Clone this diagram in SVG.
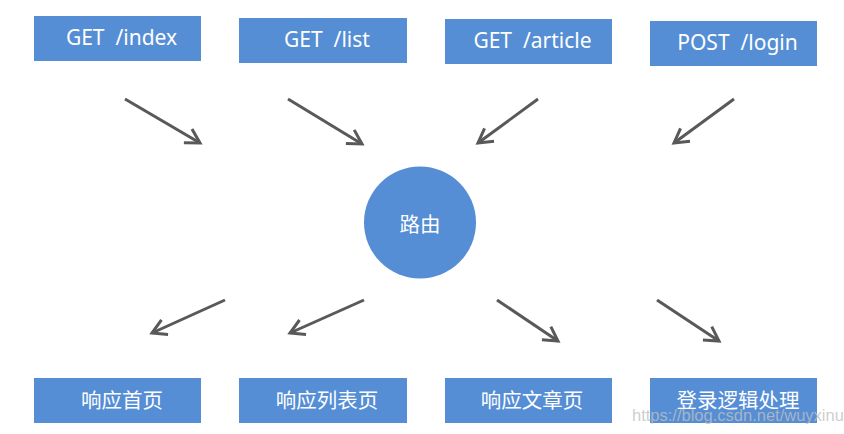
<svg xmlns="http://www.w3.org/2000/svg" width="844" height="434" viewBox="0 0 844 434">
<style>
.box{fill:#558ED5}
.lbl{fill:#ffffff;font-family:"Noto Sans","Noto Sans CJK SC",sans-serif;font-size:21px;text-anchor:middle;white-space:pre}
.cjk{fill:#ffffff;font-family:"Noto Sans CJK SC","Noto Sans",sans-serif;font-size:20.5px;text-anchor:middle}
.arr{stroke:#595959;stroke-width:3;fill:none;marker-end:url(#ah)}
.wm{fill:#bfbfbf;fill-opacity:0.8;font-family:"Liberation Sans",Arial,sans-serif;font-size:16.5px}
</style>
<defs>
<marker id="ah" markerUnits="userSpaceOnUse" viewBox="-18 -11 20 22" markerWidth="20" markerHeight="22" refX="0" refY="0" orient="auto" overflow="visible">
<path d="M-14,-8 L0,0 L-14,8" fill="none" stroke="#595959" stroke-width="3" stroke-linejoin="miter"/>
</marker>
</defs>
<rect width="844" height="434" fill="#ffffff"/>
<g id="connectors">
<line class="arr" x1="125" y1="99" x2="200" y2="143"/>
<line class="arr" x1="288" y1="99" x2="362" y2="144"/>
<line class="arr" x1="538" y1="99" x2="478" y2="143"/>
<line class="arr" x1="734" y1="99" x2="674" y2="143"/>
<line class="arr" x1="225" y1="300" x2="152" y2="333"/>
<line class="arr" x1="364" y1="300" x2="290" y2="333"/>
<line class="arr" x1="497" y1="300" x2="558" y2="341"/>
<line class="arr" x1="657" y1="300" x2="719" y2="341"/>
</g>
<g id="get-index"><rect class="box" x="34" y="16" width="167" height="45"/><text class="lbl" xml:space="preserve" x="121.5" y="45">GET  /index</text></g>
<g id="get-list"><rect class="box" x="239" y="18" width="168" height="45"/><text class="lbl" xml:space="preserve" x="327" y="47">GET  /list</text></g>
<g id="get-article"><rect class="box" x="445" y="19" width="167" height="45"/><text class="lbl" xml:space="preserve" x="532.5" y="48">GET  /article</text></g>
<g id="post-login"><rect class="box" x="650" y="21" width="167" height="45"/><text class="lbl" xml:space="preserve" x="737.5" y="50">POST  /login</text></g>
<g id="router"><circle class="box" cx="420" cy="222.5" r="56"/><text class="cjk" x="420" y="232">路由</text></g>
<g id="resp-index"><rect class="box" x="34" y="378" width="167" height="45"/><text class="cjk" x="122" y="408">响应首页</text></g>
<g id="resp-list"><rect class="box" x="239" y="378" width="168" height="45"/><text class="cjk" x="327" y="408">响应列表页</text></g>
<g id="resp-article"><rect class="box" x="445" y="378" width="167" height="45"/><text class="cjk" x="532" y="408">响应文章页</text></g>
<g id="login-logic"><rect class="box" x="650" y="378" width="167" height="45"/><text class="cjk" x="738" y="408">登录逻辑处理</text></g>
<text class="wm" x="632" y="421">https://blog.csdn.net/wuyxinu</text>
</svg>
